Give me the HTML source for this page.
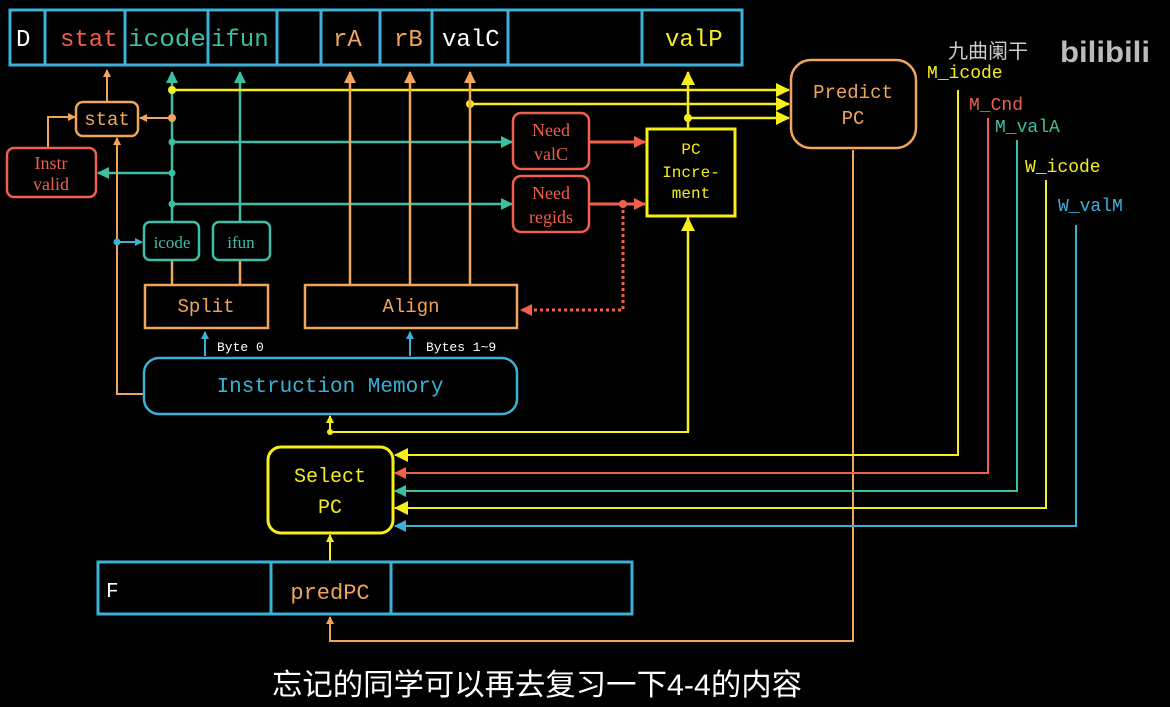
<!DOCTYPE html>
<html><head><meta charset="utf-8"><style>
html,body{margin:0;padding:0;background:#000;}
svg{display:block}
.m{font-family:"Liberation Mono",monospace;}
.s{font-family:"Liberation Serif",serif;}
</style></head><body>
<svg width="1170" height="707" viewBox="0 0 1170 707" xmlns="http://www.w3.org/2000/svg">
<defs>
<marker id="aY" markerWidth="8" markerHeight="8" refX="7" refY="4" orient="auto" markerUnits="userSpaceOnUse"><path d="M0,0 L8,4 L0,8z" fill="#f5ee1a"/></marker>
<marker id="aYb" markerWidth="14" markerHeight="14" refX="13" refY="7" orient="auto" markerUnits="userSpaceOnUse"><path d="M0,0 L14,7 L0,14z" fill="#f5ee1a"/></marker>
<marker id="aO" markerWidth="12" markerHeight="12" refX="11" refY="6" orient="auto" markerUnits="userSpaceOnUse"><path d="M0,0 L12,6 L0,12z" fill="#f0a45c"/></marker>
<marker id="aOs" markerWidth="8" markerHeight="8" refX="7" refY="4" orient="auto" markerUnits="userSpaceOnUse"><path d="M0,0 L8,4 L0,8z" fill="#f0a45c"/></marker>
<marker id="aT" markerWidth="12" markerHeight="12" refX="11" refY="6" orient="auto" markerUnits="userSpaceOnUse"><path d="M0,0 L12,6 L0,12z" fill="#3cbfa4"/></marker>
<marker id="aR" markerWidth="12" markerHeight="12" refX="11" refY="6" orient="auto" markerUnits="userSpaceOnUse"><path d="M0,0 L12,6 L0,12z" fill="#f0604a"/></marker>
<marker id="aB" markerWidth="12" markerHeight="12" refX="11" refY="6" orient="auto" markerUnits="userSpaceOnUse"><path d="M0,0 L12,6 L0,12z" fill="#3db0d8"/></marker>
<marker id="aBs" markerWidth="8" markerHeight="8" refX="7" refY="4" orient="auto" markerUnits="userSpaceOnUse"><path d="M0,0 L8,4 L0,8z" fill="#3db0d8"/></marker>
</defs>

<g fill="none" stroke="#3db0d8" stroke-width="3">
<rect x="10" y="10" width="732" height="55"/>
<path d="M45 10V65M125 10V65M208 10V65M277 10V65M321 10V65M380 10V65M432 10V65M508 10V65M642 10V65"/>
</g>
<g class="m" font-size="24">
<text x="16" y="46" fill="#fff">D</text>
<text x="60" y="46" fill="#f0604a">stat</text>
<text x="128" y="46" fill="#3cbfa4" textLength="78" lengthAdjust="spacingAndGlyphs">icode</text>
<text x="211" y="46" fill="#3cbfa4">ifun</text>
<text x="333" y="46" fill="#f0a45c">rA</text>
<text x="394" y="46" fill="#f0a45c">rB</text>
<text x="442" y="46" fill="#fff">valC</text>
<text x="665" y="46" fill="#f5ee1a">valP</text>
</g>

<g stroke="#3cbfa4" stroke-width="2.5" fill="none">
<path d="M172 222V72" marker-end="url(#aT)"/>
<path d="M240 222V72" marker-end="url(#aT)"/>
<path d="M172 142H512" marker-end="url(#aT)"/>
<path d="M172 204H512" marker-end="url(#aT)"/>
<path d="M172 173H98" marker-end="url(#aT)"/>
</g>
<g fill="#3cbfa4"><circle cx="172" cy="142" r="3.5"/><circle cx="172" cy="173" r="3.5"/><circle cx="172" cy="204" r="3.5"/></g>

<g stroke="#f5ee1a" stroke-width="2.5" fill="none">
<path d="M172 90H789" marker-end="url(#aYb)"/>
<path d="M470 104H789" marker-end="url(#aYb)"/>
<path d="M688 118H789" marker-end="url(#aYb)"/>
<path d="M688 129V72" marker-end="url(#aYb)"/>
<path d="M688 216V432H330V416" stroke-width="2" marker-end="url(#aY)"/>
<path d="M688 432V218" marker-end="url(#aYb)"/>
<path d="M330 562V535" stroke-width="2" marker-end="url(#aY)"/>
</g>
<g fill="#f5ee1a"><circle cx="172" cy="90" r="4"/><circle cx="470" cy="104" r="4"/><circle cx="688" cy="118" r="4"/><circle cx="330" cy="432" r="3"/></g>

<g stroke="#f0a45c" stroke-width="2.5" fill="none">
<path d="M350 285V72" marker-end="url(#aO)"/>
<path d="M410 285V72" marker-end="url(#aO)"/>
<path d="M470 285V72" marker-end="url(#aO)"/>
<path d="M172 285V260M240 285V260"/>
<path d="M172 118H140" stroke-width="2" marker-end="url(#aOs)"/>
<path d="M107 102V70" stroke-width="2" marker-end="url(#aOs)"/>
<path d="M48 148V117H75" stroke-width="2" marker-end="url(#aOs)"/>
<path d="M144 394H117V138" stroke-width="2" marker-end="url(#aOs)"/>
<path d="M853 150V641H330V617" stroke-width="2" marker-end="url(#aOs)"/>
</g>
<circle cx="172" cy="118" r="4" fill="#f0a45c"/>
<path d="M117 242H142" stroke="#3db0d8" stroke-width="2" marker-end="url(#aBs)"/>
<circle cx="117" cy="242" r="3.5" fill="#3db0d8"/>

<rect x="76" y="102" width="62" height="34" rx="7" fill="#000" stroke="#f0a45c" stroke-width="2.5"/>
<text x="107" y="125" class="m" font-size="19" fill="#f0a45c" text-anchor="middle">stat</text>
<rect x="7" y="148" width="89" height="49" rx="7" fill="#000" stroke="#f0604a" stroke-width="2.5"/>
<text x="51" y="169" class="s" font-size="18" fill="#f0604a" text-anchor="middle">Instr</text>
<text x="51" y="190" class="s" font-size="18" fill="#f0604a" text-anchor="middle">valid</text>
<rect x="144" y="222" width="55" height="38" rx="6" fill="#000" stroke="#3cbfa4" stroke-width="2.5"/>
<text x="172" y="248" class="s" font-size="17" fill="#3cbfa4" text-anchor="middle">icode</text>
<rect x="213" y="222" width="57" height="38" rx="6" fill="#000" stroke="#3cbfa4" stroke-width="2.5"/>
<text x="241" y="248" class="s" font-size="17" fill="#3cbfa4" text-anchor="middle">ifun</text>
<rect x="145" y="285" width="123" height="43" fill="#000" stroke="#f0a45c" stroke-width="2.5"/>
<text x="206" y="312" class="m" font-size="19" fill="#f0a45c" text-anchor="middle">Split</text>
<rect x="305" y="285" width="212" height="43" fill="#000" stroke="#f0a45c" stroke-width="2.5"/>
<text x="411" y="312" class="m" font-size="19" fill="#f0a45c" text-anchor="middle">Align</text>

<rect x="513" y="113" width="76" height="56" rx="8" fill="#000" stroke="#f0604a" stroke-width="2.5"/>
<text x="551" y="136" class="s" font-size="18" fill="#f0604a" text-anchor="middle">Need</text>
<text x="551" y="160" class="s" font-size="18" fill="#f0604a" text-anchor="middle">valC</text>
<rect x="513" y="176" width="76" height="56" rx="8" fill="#000" stroke="#f0604a" stroke-width="2.5"/>
<text x="551" y="199" class="s" font-size="18" fill="#f0604a" text-anchor="middle">Need</text>
<text x="551" y="223" class="s" font-size="18" fill="#f0604a" text-anchor="middle">regids</text>
<g stroke="#f0604a" stroke-width="3" fill="none">
<path d="M589 142H645" marker-end="url(#aR)"/>
<path d="M589 204H645" marker-end="url(#aR)"/>
<path d="M623 204V310H521" stroke-dasharray="3,3" marker-end="url(#aR)"/>
</g>
<circle cx="623" cy="204" r="4" fill="#f0604a"/>

<rect x="647" y="129" width="88" height="87" fill="#000" stroke="#f5ee1a" stroke-width="3"/>
<g class="m" font-size="16" fill="#f5ee1a" text-anchor="middle">
<text x="691" y="154">PC</text><text x="691" y="177">Incre-</text><text x="691" y="198">ment</text></g>

<rect x="791" y="60" width="125" height="88" rx="20" fill="#000" stroke="#f0a45c" stroke-width="2.5"/>
<text x="853" y="98" class="m" font-size="19" fill="#f0a45c" text-anchor="middle">Predict</text>
<text x="853" y="124" class="m" font-size="19" fill="#f0a45c" text-anchor="middle">PC</text>

<path d="M205 356V332" stroke="#3db0d8" stroke-width="2" marker-end="url(#aBs)"/>
<path d="M410 356V332" stroke="#3db0d8" stroke-width="2" marker-end="url(#aBs)"/>
<text x="217" y="351" class="m" font-size="13" fill="#fff">Byte 0</text>
<text x="426" y="351" class="m" font-size="13" fill="#fff">Bytes 1~9</text>

<rect x="144" y="358" width="373" height="56" rx="15" fill="#000" stroke="#3db0d8" stroke-width="2.5"/>
<text x="330" y="392" class="m" font-size="21" fill="#3db0d8" text-anchor="middle">Instruction Memory</text>

<g stroke-width="2" fill="none">
<path d="M958 90V455H395" stroke="#f5ee1a" marker-end="url(#aYb)"/>
<path d="M988 118V473H395" stroke="#f0604a" marker-end="url(#aR)"/>
<path d="M1017 140V491H395" stroke="#3cbfa4" marker-end="url(#aT)"/>
<path d="M1046 180V508H395" stroke="#f5ee1a" marker-end="url(#aYb)"/>
<path d="M1076 225V526H395" stroke="#3db0d8" marker-end="url(#aB)"/>
</g>
<g class="m" font-size="18">
<text x="927" y="78" fill="#f5ee1a">M_icode</text>
<text x="969" y="110" fill="#f0604a">M_Cnd</text>
<text x="995" y="132" fill="#3cbfa4">M_valA</text>
<text x="1025" y="172" fill="#f5ee1a">W_icode</text>
<text x="1058" y="211" fill="#3db0d8">W_valM</text>
</g>

<rect x="268" y="447" width="125" height="86" rx="13" fill="#000" stroke="#f5ee1a" stroke-width="3"/>
<text x="330" y="482" class="m" font-size="20" fill="#f5ee1a" text-anchor="middle">Select</text>
<text x="330" y="513" class="m" font-size="20" fill="#f5ee1a" text-anchor="middle">PC</text>

<g fill="none" stroke="#3db0d8" stroke-width="3">
<rect x="98" y="562" width="534" height="52"/>
<path d="M271 562V614M391 562V614"/>
</g>
<text x="106" y="597" class="m" font-size="21" fill="#fff">F</text>
<text x="330" y="599" class="m" font-size="22" fill="#f0a45c" text-anchor="middle">predPC</text>

<text x="948" y="58" font-family="'Noto Sans CJK SC',sans-serif" font-size="20" fill="#ccc">九曲阑干</text>
<text x="1060" y="62" font-family="'Liberation Sans',sans-serif" font-weight="bold" font-size="30" fill="#bbb" textLength="90" lengthAdjust="spacingAndGlyphs">bilibili</text>

<text x="537" y="695" font-family="'Liberation Sans','Noto Sans CJK SC',sans-serif" font-size="30" fill="#fff" text-anchor="middle" textLength="530" lengthAdjust="spacingAndGlyphs">忘记的同学可以再去复习一下4-4的内容</text>
</svg>
</body></html>
